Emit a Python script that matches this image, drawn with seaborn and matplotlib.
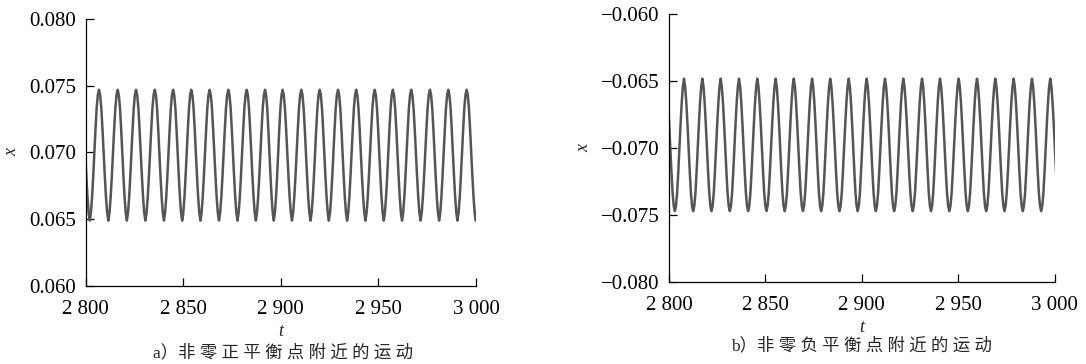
import numpy as np
import pandas as pd
import matplotlib
matplotlib.use("Agg")
import matplotlib.pyplot as plt
import seaborn as sns

# Peak times (one list per panel)
peak_times_a = [2806.8, 2816.4, 2825.8, 2835.4, 2844.8, 2854.1, 2863.5, 2873.1, 2882.5, 2891.9,
                2900.9, 2910.5, 2919.9, 2929.3, 2938.6, 2948.1, 2957.4, 2966.8, 2976.4, 2985.8, 2995.2]
peak_times_b = [2807.8, 2817.3, 2826.8, 2836.3, 2845.8, 2855.3, 2864.7, 2874.2, 2883.6, 2893.2,
                2902.5, 2912.0, 2921.5, 2931.2, 2940.5, 2950.2, 2959.7, 2969.2, 2978.7, 2988.2, 2997.7]

# Peak / trough levels of x
peak_a, trough_a = 0.0747, 0.0649
peak_b, trough_b = -0.0648, -0.0747

# Shape of one cycle (peak -> next peak), 1 = peak, 0 = trough
shape_a = [1.00, 0.96, 0.86, 0.70, 0.52, 0.34, 0.18, 0.06, 0.00, 0.06, 0.18, 0.34, 0.52, 0.70, 0.86, 0.96]
shape_b = [1.00, 0.94, 0.82, 0.66, 0.48, 0.30, 0.14, 0.04, 0.00, 0.04, 0.14, 0.30, 0.48, 0.66, 0.82, 0.94]

t_ticks = [2800, 2850, 2900, 2950, 3000]
t_labels = ["2 800", "2 850", "2 900", "2 950", "3 000"]
ya_ticks = [0.060, 0.065, 0.070, 0.075, 0.080]
ya_labels = ["0.060", "0.065", "0.070", "0.075", "0.080"]
yb_ticks = [-0.080, -0.075, -0.070, -0.065, -0.060]
yb_labels = ["\u22120.080", "\u22120.075", "\u22120.070", "\u22120.065", "\u22120.060"]

caption_a = "a\uff09" + " ".join("非零正平衡点附近的运动")
caption_b = "b\uff09" + " ".join("非零负平衡点附近的运动")


def build_curve(peaks, peak, trough, shape):
    peaks = np.asarray(peaks)
    period = np.diff(peaks).mean()
    anchors = np.concatenate([[peaks[0] - period], peaks, [peaks[-1] + period]])
    shape = np.asarray(shape)
    phase = np.arange(len(shape)) / len(shape)
    ts, xs = [], []
    for a, b in zip(anchors[:-1], anchors[1:]):
        ts.append(a + (b - a) * phase)
        xs.append(trough + (peak - trough) * shape)
    ts.append([anchors[-1]])
    xs.append([peak])
    return pd.DataFrame({"t": np.concatenate(ts), "x": np.concatenate(xs)})


sns.set_theme(style="ticks")
plt.rcParams["font.family"] = ["Liberation Serif", "Noto Sans CJK SC"]
plt.rcParams["axes.unicode_minus"] = True

fig = plt.figure(figsize=(10.86, 3.64), dpi=100)
ax_a = fig.add_axes([0.0789, 0.2143, 0.3594, 0.7335])
ax_b = fig.add_axes([0.616, 0.2253, 0.3552, 0.7349])

panels = [
    (ax_a, build_curve(peak_times_a, peak_a, trough_a, shape_a), (0.060, 0.080), ya_ticks, ya_labels),
    (ax_b, build_curve(peak_times_b, peak_b, trough_b, shape_b), (-0.080, -0.060), yb_ticks, yb_labels),
]

for ax, df, ylim, yt, yl in panels:
    sns.lineplot(data=df, x="t", y="x", ax=ax, color="#555555", lw=1.8,
                 estimator=None, sort=False)
    ax.set_xlim(2800, 3000)
    ax.set_ylim(*ylim)
    ax.set_xticks(t_ticks)
    ax.set_xticklabels(t_labels)
    ax.set_yticks(yt)
    ax.set_yticklabels(yl)
    ax.tick_params(direction="in", length=6, width=0.9, labelsize=15, colors="black")
    ax.tick_params(axis="x", pad=10)
    ax.tick_params(axis="y", pad=7)
    for s in ["left", "bottom"]:
        ax.spines[s].set_linewidth(0.9)
        ax.spines[s].set_color("black")
    sns.despine(ax=ax)
    ax.set_xlabel("t", fontstyle="italic", fontsize=13, labelpad=3)
    ax.set_ylabel("x", fontstyle="italic", fontsize=13, labelpad=6)

fig.text(0.2606, 0.030, caption_a, ha="center", va="center", fontsize=12.5)
fig.text(0.7928, 0.050, caption_b, ha="center", va="center", fontsize=12.5)

fig.savefig("out.png", dpi=100)
